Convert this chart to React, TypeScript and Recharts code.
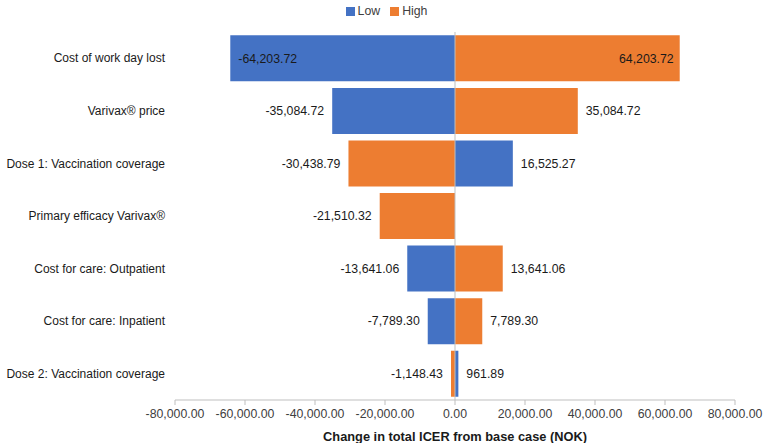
import {
  Bar,
  BarChart,
  LabelList,
  Legend,
  ReferenceLine,
  XAxis,
  YAxis,
} from "recharts";

const categories = [
  "Cost of work day lost",
  "Varivax® price",
  "Dose 1: Vaccination coverage",
  "Primary efficacy Varivax®",
  "Cost for care: Outpatient",
  "Cost for care: Inpatient",
  "Dose 2: Vaccination coverage",
];
const lowValues = [-64203.72, -35084.72, 16525.27, null, -13641.06, -7789.3, 961.89];
const highValues = [64203.72, 35084.72, -30438.79, -21510.32, 13641.06, 7789.3, -1148.43];
const xTicks = [-80000, -60000, -40000, -20000, 0, 20000, 40000, 60000, 80000];

const seriesNames = ["Low", "High"];
const seriesColors = ["#4472C4", "#ED7D31"];

const data = categories.map((name, i) => ({
  name,
  low: lowValues[i],
  high: highValues[i],
}));

const fmt = (v: number) =>
  v.toLocaleString("en-US", { minimumFractionDigits: 2, maximumFractionDigits: 2 });

const FONT = '"Liberation Sans", Arial, sans-serif';
const FS = 12.3;

function BarLabel(props: any) {
  const { value } = props;
  if (value == null || value === 0) return null;
  const x = Number(props.x);
  const y = Number(props.y);
  const width = Number(props.width);
  const height = Number(props.height);
  const left = Math.min(x, x + width);
  const right = Math.max(x, x + width);
  const inside = right - left > 180;
  const cy = y + height / 2;
  let tx: number;
  let anchor: "start" | "end";
  if (value < 0) {
    tx = inside ? left + 8 : left - 8;
    anchor = inside ? "start" : "end";
  } else {
    tx = inside ? right - 6 : right + 8;
    anchor = inside ? "end" : "start";
  }
  return (
    <text
      x={tx}
      y={cy}
      dy="0.35em"
      textAnchor={anchor}
      fontSize={FS}
      fill="#1a1a1a"
      fontFamily={FONT}
    >
      {fmt(value)}
    </text>
  );
}

function CategoryTick(props: any) {
  const { x, y, payload } = props;
  return (
    <text
      x={Number(x)}
      y={Number(y)}
      dy="0.35em"
      textAnchor="end"
      fontSize={12}
      fill="#1a1a1a"
      fontFamily={FONT}
    >
      {payload.value}
    </text>
  );
}

function LegendContent() {
  return (
    <div
      style={{
        display: "flex",
        justifyContent: "center",
        gap: 10,
        fontSize: FS,
        color: "#404040",
        fontFamily: FONT,
        marginLeft: 38,
      }}
    >
      {seriesNames.map((n, i) => (
        <span key={n} style={{ display: "inline-flex", alignItems: "center" }}>
          <span
            style={{
              width: 9,
              height: 9,
              background: seriesColors[i],
              display: "inline-block",
              marginRight: 3,
            }}
          />
          {n}
        </span>
      ))}
    </div>
  );
}

export default function App() {
  return (
    <div style={{ fontFamily: FONT, position: "absolute", left: 0, top: 0 }}>
      <BarChart
        width={763}
        height={443}
        data={data}
        layout="vertical"
        stackOffset="sign"
        barCategoryGap="6.3%"
        margin={{ top: 8, right: 28, bottom: 0, left: 0 }}
      >
        <Legend
          verticalAlign="top"
          align="center"
          height={24}
          wrapperStyle={{ top: 4 }}
          content={LegendContent}
        />
        <XAxis
          type="number"
          domain={[-80000, 80000]}
          ticks={xTicks}
          tickFormatter={fmt}
          interval={0}
          stroke="#bfbfbf"
          tickSize={5}
          tickMargin={4}
          tick={{ fontSize: FS, fill: "#404040", fontFamily: FONT }}
          height={43}
          label={{
            value: "Change in total ICER from base case (NOK)",
            position: "insideBottom",
            offset: 2,
            fontSize: 12.8,
            fontWeight: "bold",
            fill: "#1a1a1a",
          }}
        />
        <YAxis
          type="category"
          dataKey="name"
          width={175}
          axisLine={false}
          tickLine={false}
          tickMargin={4}
          interval={0}
          tick={CategoryTick}
        />
        <Bar dataKey="low" name="Low" stackId="s" fill={seriesColors[0]} isAnimationActive={false}>
          <LabelList dataKey="low" content={BarLabel} />
        </Bar>
        <Bar dataKey="high" name="High" stackId="s" fill={seriesColors[1]} isAnimationActive={false}>
          <LabelList dataKey="high" content={BarLabel} />
        </Bar>
        <ReferenceLine x={0} stroke="#bfbfbf" strokeWidth={1} />
      </BarChart>
    </div>
  );
}
